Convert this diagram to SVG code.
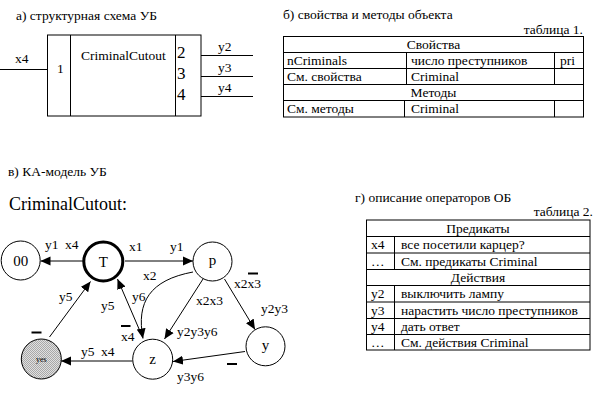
<svg xmlns="http://www.w3.org/2000/svg" width="596" height="403" viewBox="0 0 596 403">
<style>
text{font-family:"Liberation Serif","Times New Roman",serif;font-size:13.5px;fill:#000}
.ln{stroke:#000;stroke-width:1;fill:none}
.node{fill:#fff;stroke:#000;stroke-width:1}
.nl{font-size:15px;text-anchor:middle}
.c{text-anchor:middle}
.r{text-anchor:end}
.big{font-size:17px}
</style>
<defs>
<marker id="ah" viewBox="0 0 10 10" refX="10" refY="5" markerWidth="10" markerHeight="10" orient="auto" markerUnits="userSpaceOnUse"><path d="M0,0.5 L10,5 L0,9.5 z" fill="#000"/></marker>
<pattern id="dots" width="2" height="2" patternUnits="userSpaceOnUse"><rect width="2" height="2" fill="#e0e0e0"/><rect width="1" height="1" fill="#a8a8a8"/><rect x="1" y="1" width="1" height="1" fill="#a8a8a8"/></pattern>
</defs>
<rect width="596" height="403" fill="#fff"/>

<!-- a) structural scheme -->
<text x="16" y="20">а) структурная схема УБ</text>
<g id="block">
<rect x="47.5" y="35" width="153.5" height="81" class="ln"/>
<line x1="70.5" y1="35" x2="70.5" y2="116" class="ln"/>
<line x1="175.5" y1="35" x2="175.5" y2="116" class="ln"/>
<line x1="0" y1="69.5" x2="47.5" y2="69.5" class="ln"/>
<line x1="201" y1="55.5" x2="253" y2="55.5" class="ln"/>
<line x1="201" y1="76.5" x2="253" y2="76.5" class="ln"/>
<line x1="201" y1="96.5" x2="253" y2="96.5" class="ln"/>
<text x="15" y="63">x4</text>
<text x="57" y="73">1</text>
<text x="81" y="59.5">CriminalCutout</text>
<text x="177" y="58" class="big">2</text>
<text x="177" y="79" class="big">3</text>
<text x="177" y="100" class="big">4</text>
<text x="218" y="51">y2</text>
<text x="218" y="72">y3</text>
<text x="218" y="92">y4</text>
</g>

<!-- b) table 1 -->
<text x="283" y="19">б) свойства и методы объекта</text>
<text x="583" y="34" class="r">таблица 1.</text>
<g id="table1">
<rect x="283.5" y="36.5" width="300" height="80.5" class="ln"/>
<line x1="283.5" y1="52.5" x2="583.5" y2="52.5" class="ln"/>
<line x1="283.5" y1="68.5" x2="583.5" y2="68.5" class="ln"/>
<line x1="283.5" y1="84.5" x2="583.5" y2="84.5" class="ln"/>
<line x1="283.5" y1="100.5" x2="583.5" y2="100.5" class="ln"/>
<line x1="406.5" y1="52.5" x2="406.5" y2="84.5" class="ln"/>
<line x1="404.5" y1="100.5" x2="404.5" y2="117" class="ln"/>
<line x1="554.5" y1="52.5" x2="554.5" y2="84.5" class="ln"/>
<line x1="554.5" y1="100.5" x2="554.5" y2="117" class="ln"/>
<text x="433.5" y="48.5" class="c">Свойства</text>
<text x="287" y="64.5">nCriminals</text>
<text x="411" y="64.5">число преступников</text>
<text x="560" y="64.5">pri</text>
<text x="287" y="80.5">См. свойства</text>
<text x="411" y="80.5">Criminal</text>
<text x="433.5" y="96.5" class="c">Методы</text>
<text x="287" y="113">См. методы</text>
<text x="411" y="113">Criminal</text>
</g>

<!-- c) automaton -->
<text x="8" y="176">в) КА-модель УБ</text>
<text x="9" y="210" style="font-size:18px">CriminalCutout:</text>

<g id="connectors">
<line x1="83" y1="261" x2="40.5" y2="261" class="ln" marker-end="url(#ah)"/>
<line x1="125" y1="261" x2="193" y2="261" class="ln" marker-end="url(#ah)"/>
<path d="M193,272 C150,280 136,302 143,338.5" class="ln" marker-end="url(#ah)"/>
<line x1="203" y1="279" x2="164.5" y2="339" class="ln" marker-end="url(#ah)"/>
<line x1="224.5" y1="279" x2="255" y2="329.5" class="ln" marker-end="url(#ah)"/>
<line x1="245" y1="351.5" x2="173" y2="361.5" class="ln" marker-end="url(#ah)"/>
<line x1="142.5" y1="337" x2="117.5" y2="279" class="ln" marker-end="url(#ah)"/>
<line x1="49.5" y1="337" x2="90.5" y2="281.5" class="ln" marker-end="url(#ah)"/>
<line x1="132.5" y1="361" x2="61" y2="361" class="ln" marker-end="url(#ah)"/>
<text x="45" y="249">y1</text>
<text x="65" y="249">x4</text>
<text x="129" y="251">x1</text>
<text x="170" y="251">y1</text>
<text x="143" y="280">x2</text>
<text x="132" y="301">y6</text>
<text x="196" y="305">x2x3</text>
<text x="177" y="336">y2y3y6</text>
<text x="234" y="288">x2x3</text>
<line x1="248" y1="273.5" x2="258" y2="273.5" class="ln" style="stroke-width:2"/>
<text x="261" y="313">y2y3</text>
<line x1="227" y1="364" x2="237" y2="364" class="ln" style="stroke-width:2"/>
<text x="177" y="381">y3y6</text>
<text x="101" y="310">y5</text>
<text x="121" y="341">x4</text>
<line x1="121" y1="326" x2="130.5" y2="326" class="ln" style="stroke-width:2"/>
<text x="59" y="301">y5</text>
<line x1="31.5" y1="332.5" x2="41.5" y2="332.5" class="ln" style="stroke-width:2"/>
<text x="81" y="356">y5</text>
<text x="101" y="356">x4</text>
</g>

<g id="node-00"><circle cx="20.7" cy="260.5" r="19.5" class="node"/><text x="20.7" y="266" class="nl">00</text></g>
<g id="node-T"><circle cx="103.3" cy="261.5" r="19.5" class="node" style="stroke-width:3"/><text x="103.3" y="267" class="nl">T</text></g>
<g id="node-p"><circle cx="212.5" cy="261.5" r="19.5" class="node"/><text x="212.5" y="265" class="nl">p</text></g>
<g id="node-y"><circle cx="265.5" cy="346.3" r="19.5" class="node"/><text x="265.5" y="350" class="nl">y</text></g>
<g id="node-z"><circle cx="152.7" cy="359.2" r="20" class="node"/><text x="152.7" y="364" class="nl">z</text></g>
<g id="node-yes"><circle cx="41.3" cy="359" r="20" class="node" style="fill:url(#dots)"/><text x="41.3" y="362" class="c" style="font-size:8px">yes</text></g>

<!-- d) table 2 -->
<text x="355" y="202">г) описание операторов ОБ</text>
<text x="593" y="216" class="r">таблица 2.</text>
<g id="table2">
<rect x="366.5" y="220" width="223.5" height="130" class="ln"/>
<line x1="366.5" y1="236.5" x2="590" y2="236.5" class="ln"/>
<line x1="366.5" y1="253" x2="590" y2="253" class="ln"/>
<line x1="366.5" y1="269.5" x2="590" y2="269.5" class="ln"/>
<line x1="366.5" y1="285.5" x2="590" y2="285.5" class="ln"/>
<line x1="366.5" y1="302" x2="590" y2="302" class="ln"/>
<line x1="366.5" y1="318.5" x2="590" y2="318.5" class="ln"/>
<line x1="366.5" y1="334.5" x2="590" y2="334.5" class="ln"/>
<line x1="394.5" y1="236.5" x2="394.5" y2="269.5" class="ln"/>
<line x1="394.5" y1="285.5" x2="394.5" y2="350" class="ln"/>
<text x="478" y="232.5" class="c">Предикаты</text>
<text x="371" y="249">x4</text>
<text x="401" y="249">все посетили карцер?</text>
<text x="371" y="265.5">…</text>
<text x="401" y="265.5">См. предикаты Criminal</text>
<text x="478" y="281.5" class="c">Действия</text>
<text x="371" y="298">y2</text>
<text x="401" y="298">выключить лампу</text>
<text x="371" y="314.5">y3</text>
<text x="401" y="314.5">нарастить число преступников</text>
<text x="371" y="330.5">y4</text>
<text x="401" y="330.5">дать ответ</text>
<text x="371" y="346.5">…</text>
<text x="401" y="346.5">См. действия Criminal</text>
</g>
</svg>
